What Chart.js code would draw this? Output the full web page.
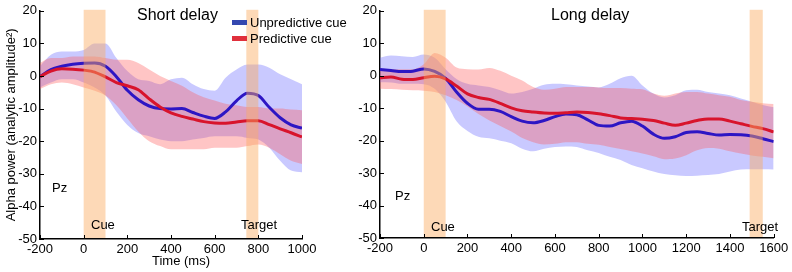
<!DOCTYPE html>
<html>
<head>
<meta charset="utf-8">
<script src="https://cdn.jsdelivr.net/npm/chart.js@4.4.0/dist/chart.umd.min.js"></script>
<style>
    body { margin: 0; background: #fff; width: 792px; height: 272px; overflow: hidden; position: relative; }
    #caixaCurto { position: absolute; left: 0; top: 0; }
    #caixaLongo { position: absolute; left: 340px; top: 0; }
</style>
</head>
<body>
<canvas id="caixaCurto" width="360" height="272"></canvas>
<canvas id="caixaLongo" width="452" height="272"></canvas>
<script>
// dados - short delay
const tempoCurto = [-200, -150, -100, -50, 0, 50, 100, 150, 200, 250, 300, 350, 400, 450, 500, 550, 600, 650, 700, 750, 800, 850, 900, 950, 1000]
const unpredCurto = [-0.2, 2.0, 3.0, 3.6, 3.9, 4.0, 3.0, -0.2, -4.4, -7.3, -9.2, -10.0, -10.1, -10.0, -11.2, -12.3, -13.0, -11.0, -7.6, -5.3, -6.0, -9.6, -12.8, -15.0, -16.0]
const unpredCurtoSup = [3, 6.5, 7.5, 7.5, 8, 10, 10, 5.5, 1.5, -1, -1.5, -2.5, -1, -0.5, -2.5, -4, -4.5, -0.5, 2, 3.5, 3.5, 2.5, 0.5, -1, -2.5]
const unpredCurtoInf = [-3.5, -2, -1, -1, -2, -3.5, -6, -11, -15, -17.5, -18.5, -19.5, -20, -20, -19.5, -19, -18.5, -18.5, -18.5, -19, -19.5, -22, -26, -29, -29.5]
const predCurto = [-0.2, 1.5, 2.2, 2.1, 1.8, 1.2, -0.3, -2.0, -3.0, -4.2, -7.0, -9.5, -11.3, -12.4, -13.2, -14.0, -14.4, -14.5, -14.1, -13.7, -13.7, -14.9, -16.2, -17.4, -18.7]
const predCurtoSup = [4, 5.5, 5.5, 6, 6, 6, 5.5, 5, 5, 4, 2, 0, -1.5, -3, -5, -6.5, -7.5, -8.5, -9, -9.5, -9.5, -10, -10, -10.3, -10.5]
const predCurtoInf = [-4, -2.5, -2, -2.5, -3.5, -4.5, -6, -9, -13, -17, -20, -21.5, -22.5, -22.5, -22.5, -22.5, -22, -22, -22, -21.5, -21, -22, -24, -26, -27]

// dados - long delay
const tempoLongo = [-200, -150, -100, -50, 0, 50, 100, 150, 200, 250, 300, 350, 400, 450, 500, 550, 600, 650, 700, 750, 800, 850, 900, 950, 1000, 1050, 1100, 1150, 1200, 1250, 1300, 1350, 1400, 1450, 1500, 1550, 1600]
const unpredLongo = [1.9, 1.6, 1.3, 1.4, 2.1, 1.3, -0.8, -5.0, -8.5, -10.3, -10.3, -11.0, -12.6, -14.0, -14.5, -13.8, -12.6, -11.8, -12.0, -13.6, -15.3, -15.5, -14.5, -14.0, -15.5, -18.0, -19.3, -18.8, -17.5, -17.3, -17.8, -18.3, -18.1, -18.2, -18.6, -19.4, -20.3]
const unpredLongoSup = [5.5, 6.2, 6, 5.8, 6.5, 5.5, 2, -1, -2.5, -3, -3.5, -4.5, -5.5, -5, -4, -2.8, -2.5, -2.6, -3, -3.3, -3.6, -2.5, -0.8, 0, -3, -5.5, -6.7, -6, -4.5, -4.3, -5, -5.5, -6, -7, -8, -9, -9.7]
const unpredLongoInf = [-2, -2.1, -2.5, -2.5, -2.6, -4, -8, -14, -17, -18.8, -19.3, -20, -20.8, -22.5, -23.3, -22.5, -22, -21.8, -22, -23, -23.8, -25, -26, -27.5, -28.5, -29.5, -30.3, -30.7, -30.9, -30.8, -30.6, -30.3, -29.5, -28.9, -28.8, -28.8, -28.9]
const predLongo = [-0.6, -0.4, -1.1, -1.2, -0.6, -0.2, -1.0, -3.2, -5.6, -6.7, -7.3, -8.5, -9.9, -10.8, -11.2, -11.5, -11.6, -11.4, -11.2, -11.3, -11.7, -12.3, -13.0, -13.2, -13.4, -13.8, -14.6, -15.3, -14.6, -13.8, -13.3, -13.3, -14.0, -14.8, -15.6, -16.3, -17.3]
const predLongoSup = [2, 2, 2, 2, 3.5, 7, 5.5, 2.5, 2, 1.9, 2.4, 1.5, 0, -1.5, -3.5, -4.3, -4, -3.5, -3.5, -3.5, -3.6, -3.8, -3.8, -4, -4.2, -5.5, -6.2, -5.5, -5, -5, -5.5, -6, -6.5, -7.5, -8, -8.5, -8.7]
const predLongoInf = [-4, -4.1, -4.3, -4.5, -4.6, -5, -6, -7.5, -9.5, -11.8, -13.8, -15.5, -17.2, -19.2, -20.5, -21.2, -21, -20.5, -20.5, -21, -21.3, -22, -22.6, -23.3, -24, -24.8, -25.7, -25.5, -24.5, -23, -22.3, -22.5, -23.3, -24, -24.6, -25, -25.4]

// janelas (ms)
const janelaCue = [0, 100]
const janelaTargetCurto = [745, 800]
const janelaTargetLongo = [1490, 1550]

const fonte = '"Liberation Sans", Arial, Helvetica, sans-serif'
const corAzul = '#2d16c4'
const corVermelho = '#d8142c'

function pontos(tempo, valores) {
    return tempo.map((t, i) => ({ x: t, y: valores[i] }))
}

// faixas laranja, ticks pra dentro e textos
const decor = {
    id: 'decor',
    afterDatasetsDraw(chart, args, opts) {
        const { ctx, chartArea: a, scales: { x } } = chart
        ctx.save()
        ctx.fillStyle = 'rgba(250,170,95,0.45)'
        opts.janelas.forEach(j => {
            let x0 = x.getPixelForValue(j[0])
            let x1 = x.getPixelForValue(j[1])
            ctx.fillRect(x0, a.top - 1, x1 - x0, a.bottom - a.top)
        })
        ctx.restore()
    },
    afterDraw(chart, args, opts) {
        const { ctx, chartArea: a, scales: { x, y } } = chart
        ctx.save()
        ctx.strokeStyle = '#000'
        ctx.lineWidth = 1
        x.ticks.forEach(t => {
            let px = Math.round(x.getPixelForValue(t.value)) + 0.5
            ctx.beginPath(); ctx.moveTo(px, a.bottom); ctx.lineTo(px, a.bottom - 4); ctx.stroke()
        })
        y.ticks.forEach(t => {
            let py = Math.round(y.getPixelForValue(t.value)) + 0.5
            ctx.beginPath(); ctx.moveTo(a.left, py); ctx.lineTo(a.left + 4, py); ctx.stroke()
        })

        ctx.fillStyle = '#000'
        ctx.textBaseline = 'alphabetic'
        ctx.textAlign = 'left'
        ctx.font = `16px ${fonte}`
        ctx.fillText(opts.titulo.text, opts.titulo.x, opts.titulo.y)
        ctx.font = `13px ${fonte}`
        opts.textos.forEach(t => ctx.fillText(t.text, t.x, t.y))

        if (opts.legenda) {
            opts.legenda.forEach(l => {
                ctx.fillStyle = l.cor
                ctx.fillRect(l.x, l.y - 2.5, 15, 5)
                ctx.fillStyle = '#000'
                ctx.fillText(l.text, l.x + 18, l.y + 4.5)
            })
        }
        ctx.restore()
    }
}

function montaGrafico(id, tempo, series, janelas, extra) {
    let ctx = document.getElementById(id)
    return new Chart(ctx, {
        type: 'line',
        data: {
            datasets: [
                { data: pontos(tempo, series.pred), borderColor: corVermelho, borderWidth: 3, pointRadius: 0, fill: false, cubicInterpolationMode: 'monotone' },
                { data: pontos(tempo, series.unpred), borderColor: corAzul, borderWidth: 3, pointRadius: 0, fill: false, cubicInterpolationMode: 'monotone' },
                { data: pontos(tempo, series.predSup), borderWidth: 0, pointRadius: 0, fill: '+1', backgroundColor: 'rgba(255,90,90,0.35)', cubicInterpolationMode: 'monotone' },
                { data: pontos(tempo, series.predInf), borderWidth: 0, pointRadius: 0, fill: false, cubicInterpolationMode: 'monotone' },
                { data: pontos(tempo, series.unpredSup), borderWidth: 0, pointRadius: 0, fill: '+1', backgroundColor: 'rgba(100,100,255,0.35)', cubicInterpolationMode: 'monotone' },
                { data: pontos(tempo, series.unpredInf), borderWidth: 0, pointRadius: 0, fill: false, cubicInterpolationMode: 'monotone' }
            ]
        },
        options: {
            responsive: false,
            animation: false,
            events: [],
            layout: { padding: { top: extra.top, right: extra.right, left: 0, bottom: 0 } },
            plugins: {
                legend: { display: false },
                tooltip: { enabled: false },
                decor: { janelas: janelas, titulo: extra.titulo, textos: extra.textos, legenda: extra.legenda }
            },
            scales: {
                x: {
                    type: 'linear',
                    min: tempo[0],
                    max: tempo[tempo.length - 1],
                    afterFit: s => { s.height = extra.alturaX },
                    grid: { display: false, drawTicks: false },
                    border: { display: true, color: '#000', width: 1.5 },
                    ticks: { stepSize: 200, padding: 3, autoSkip: false, maxRotation: 0, color: '#000', font: { family: fonte, size: 13 }, callback: v => String(v) }
                },
                y: {
                    min: -50,
                    max: 20,
                    afterFit: s => { s.width = 40 },
                    grid: { display: false, drawTicks: false },
                    border: { display: true, color: '#000', width: 1.5 },
                    ticks: { stepSize: 10, padding: 3, color: '#000', font: { family: fonte, size: 13 }, callback: v => String(v) },
                    title: {
                        display: extra.tituloY != null,
                        text: extra.tituloY,
                        color: '#000',
                        padding: { top: 4, bottom: 0 },
                        font: { family: fonte, size: 13 }
                    }
                }
            }
        },
        plugins: [decor]
    })
}

window.onload = () => {
    montaGrafico('caixaCurto', tempoCurto, {
        unpred: unpredCurto, unpredSup: unpredCurtoSup, unpredInf: unpredCurtoInf,
        pred: predCurto, predSup: predCurtoSup, predInf: predCurtoInf
    }, [janelaCue, janelaTargetCurto], {
        top: 8, right: 58, alturaX: 33,
        tituloY: 'Alpha power (analytic amplitude²)',
        titulo: { text: 'Short delay', x: 137, y: 20 },
        textos: [
            { text: 'Pz', x: 52, y: 192 },
            { text: 'Cue', x: 91, y: 229 },
            { text: 'Target', x: 241, y: 229 },
            { text: 'Time (ms)', x: 152, y: 265 }
        ],
        legenda: [
            { text: 'Unpredictive cue', cor: '#3448b0', x: 232, y: 22.5 },
            { text: 'Predictive cue', cor: '#e0303c', x: 232, y: 38.5 }
        ]
    })

    montaGrafico('caixaLongo', tempoLongo, {
        unpred: unpredLongo, unpredSup: unpredLongoSup, unpredInf: unpredLongoInf,
        pred: predLongo, predSup: predLongoSup, predInf: predLongoInf
    }, [janelaCue, janelaTargetLongo], {
        top: 7, right: 18.3, alturaX: 34,
        tituloY: null,
        titulo: { text: 'Long delay', x: 211, y: 19.5 },
        textos: [
            { text: 'Pz', x: 55, y: 200 },
            { text: 'Cue', x: 91, y: 231 },
            { text: 'Target', x: 402, y: 231 }
        ],
        legenda: null
    })
}
</script>
</body>
</html>
